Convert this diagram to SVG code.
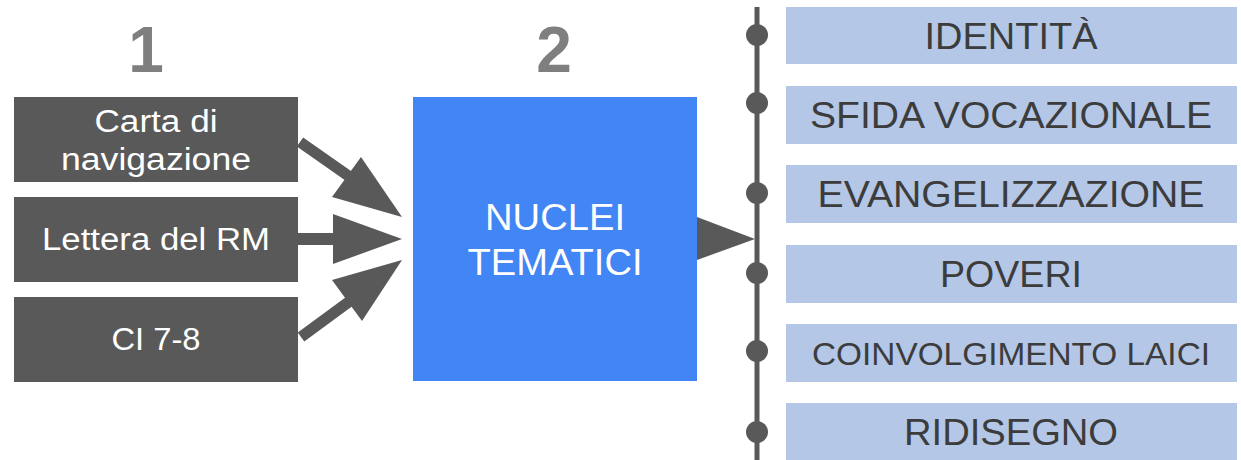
<svg xmlns="http://www.w3.org/2000/svg" width="1241" height="460" viewBox="0 0 1241 460">
<style>
.src{fill:#595959}
.srct{fill:#ffffff;font-family:"Liberation Sans",Arial,sans-serif;font-size:31px;text-anchor:middle}
.num{fill:#7f7f7f;font-family:"Liberation Sans",Arial,sans-serif;font-size:64px;font-weight:bold;text-anchor:middle}
.core{fill:#4285f4}
.coret{fill:#ffffff;font-family:"Liberation Sans",Arial,sans-serif;font-size:37px;text-anchor:middle}
.theme{fill:#b4c7e7}
.themet{fill:#3c3c3c;font-family:"Liberation Sans",Arial,sans-serif;font-size:36px;text-anchor:middle}
.conn{fill:#595959}
.dot{fill:#595959}
</style>
<rect width="1241" height="460" fill="#ffffff"/>
<text class="num" x="146" y="72">1</text>
<text class="num" x="554" y="72">2</text>

<g id="connectors">
  <line x1="300" y1="142" x2="350" y2="177" stroke="#595959" stroke-width="11"/>
  <polygon class="conn" points="361,157 402,217 332,197"/>
  <rect class="conn" x="298" y="233" width="36" height="12"/>
  <polygon class="conn" points="333,214 402,239 333,264"/>
  <line x1="301" y1="337" x2="350" y2="301" stroke="#595959" stroke-width="11"/>
  <polygon class="conn" points="332,280 402,260 362,321"/>
  <polygon class="conn" points="697,217 755,239 697,260"/>
  <line x1="757" y1="7" x2="757" y2="460" stroke="#595959" stroke-width="5"/>
  <circle class="dot" cx="757" cy="35" r="11"/>
  <circle class="dot" cx="757" cy="103" r="11"/>
  <circle class="dot" cx="757" cy="193" r="11"/>
  <circle class="dot" cx="757" cy="273" r="11"/>
  <circle class="dot" cx="757" cy="351" r="11"/>
  <circle class="dot" cx="757" cy="432" r="11"/>
</g>

<g id="carta">
  <rect class="src" x="14" y="97" width="284" height="85"/>
  <text class="srct" x="156" y="132" textLength="123" lengthAdjust="spacingAndGlyphs">Carta di</text>
  <text class="srct" x="156" y="170" textLength="190" lengthAdjust="spacingAndGlyphs">navigazione</text>
</g>
<g id="lettera">
  <rect class="src" x="14" y="197" width="284" height="85"/>
  <text class="srct" x="156" y="250" textLength="228" lengthAdjust="spacingAndGlyphs">Lettera del RM</text>
</g>
<g id="ci">
  <rect class="src" x="14" y="297" width="284" height="85"/>
  <text class="srct" x="156" y="350" textLength="89" lengthAdjust="spacingAndGlyphs">CI 7-8</text>
</g>

<g id="nuclei">
  <rect class="core" x="413" y="97" width="284" height="284"/>
  <text class="coret" x="555" y="230" textLength="140" lengthAdjust="spacingAndGlyphs">NUCLEI</text>
  <text class="coret" x="555" y="275" textLength="175" lengthAdjust="spacingAndGlyphs">TEMATICI</text>
</g>

<g id="identita">
  <rect class="theme" x="786" y="7" width="451" height="57"/>
  <text class="themet" x="1011" y="49" textLength="173" lengthAdjust="spacingAndGlyphs">IDENTITÀ</text>
</g>
<g id="sfida">
  <rect class="theme" x="786" y="86" width="451" height="58"/>
  <text class="themet" x="1011" y="128" textLength="402" lengthAdjust="spacingAndGlyphs">SFIDA VOCAZIONALE</text>
</g>
<g id="evangelizzazione">
  <rect class="theme" x="786" y="165" width="451" height="58"/>
  <text class="themet" x="1011" y="207" textLength="387" lengthAdjust="spacingAndGlyphs">EVANGELIZZAZIONE</text>
</g>
<g id="poveri">
  <rect class="theme" x="786" y="245" width="451" height="58"/>
  <text class="themet" x="1011" y="287" textLength="142" lengthAdjust="spacingAndGlyphs">POVERI</text>
</g>
<g id="coinvolgimento">
  <rect class="theme" x="786" y="324" width="451" height="58"/>
  <text class="themet" x="1011" y="365" style="font-size:31px" textLength="398" lengthAdjust="spacingAndGlyphs">COINVOLGIMENTO LAICI</text>
</g>
<g id="ridisegno">
  <rect class="theme" x="786" y="403" width="451" height="57"/>
  <text class="themet" x="1011" y="445" textLength="214" lengthAdjust="spacingAndGlyphs">RIDISEGNO</text>
</g>
</svg>
